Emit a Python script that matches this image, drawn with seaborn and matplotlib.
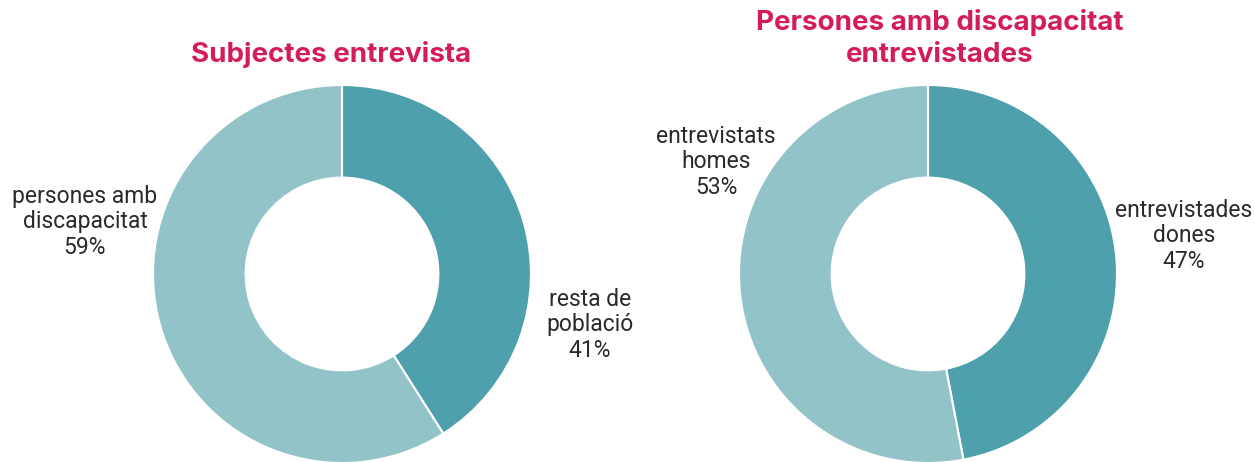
import matplotlib
matplotlib.use("Agg")
import matplotlib.pyplot as plt
import seaborn as sns

sns.set_theme(style="white")
plt.rcParams['font.family'] = ['Roboto', 'DejaVu Sans']

# Data
titles = ["Subjectes entrevista", "Persones amb discapacitat\nentrevistades"]
left_labels = ["resta de\npoblació", "persones amb\ndiscapacitat"]
left_values = [41, 59]
right_labels = ["entrevistades\ndones", "entrevistats\nhomes"]
right_values = [47, 53]

palette = ["#4fa0ad", "#92c3c9"]
title_color = "#d41c5c"
text_color = "#2a2a2a"

W, H = 1255, 462
fig = plt.figure(figsize=(W / 100, H / 100), dpi=100)

def add_donut(cx, cy, r, values, labels, label_pos, title, title_xy):
    ax = fig.add_axes([(cx - r) / W, (H - cy - r) / H, 2 * r / W, 2 * r / H])
    ax.pie(values, colors=palette, startangle=90, counterclock=False,
           radius=1, wedgeprops=dict(width=0.49, edgecolor="white", linewidth=1.5))
    ax.set_xlim(-1, 1)
    ax.set_ylim(-1, 1)
    ax.set_axis_off()
    for lab, v, (lx, ly) in zip(labels, values, label_pos):
        x = (lx - cx) / r
        y = (cy - ly) / r
        ax.text(x, y, f"{lab}\n{v}%", ha="center", va="center", fontsize=16.5,
                color=text_color, linespacing=1.15, clip_on=False, fontweight="normal")
    fig.text(title_xy[0] / W, 1 - title_xy[1] / H, title, ha="center", va="center",
             fontsize=20, fontweight="bold", color=title_color, linespacing=1.3,
             family=["Inter", "DejaVu Sans"])

add_donut(342, 274, 189, left_values, left_labels,
          [(590, 325), (85, 222)], titles[0], (331, 55))
add_donut(928, 274, 189, right_values, right_labels,
          [(1184, 236), (716, 162)], titles[1], (940, 39))

fig.savefig("out.png", dpi=100)
